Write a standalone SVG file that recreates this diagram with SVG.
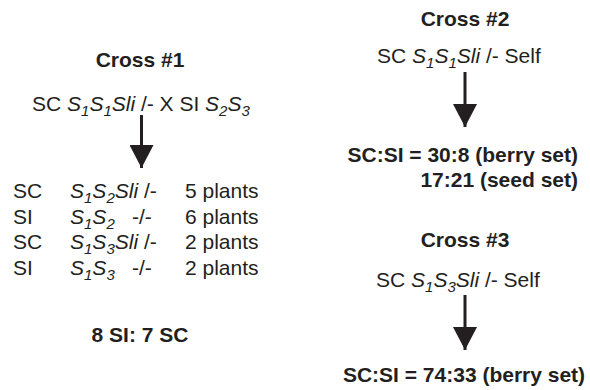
<svg xmlns="http://www.w3.org/2000/svg" width="590" height="390" viewBox="0 0 590 390">
<style>
text{font-family:"Liberation Sans",Arial,sans-serif;font-size:21px;fill:#231f20}
.b{font-weight:bold}
.i{font-style:italic}
.s{font-size:15px;font-style:italic}
.arrow{stroke:#231f20;stroke-width:3;fill:none}
</style>
<defs>
<marker id="ah" markerUnits="userSpaceOnUse" markerWidth="24" markerHeight="24" viewBox="0 0 24 24" refX="23" refY="12" orient="auto">
<path d="M0,0 L23,12 L0,24 Z" fill="#231f20"/>
</marker>
</defs>
<rect width="590" height="390" fill="#ffffff"/>
<g id="cross1">
<text class="b" x="140" y="67" text-anchor="middle">Cross #1</text>
<text x="32" y="111">SC <tspan class="i">S</tspan><tspan class="s" dy="5">1</tspan><tspan class="i" dy="-5">S</tspan><tspan class="s" dy="5">1</tspan><tspan class="i" dy="-5">Sli</tspan> /- X SI <tspan class="i">S</tspan><tspan class="s" dy="5">2</tspan><tspan class="i" dy="-5">S</tspan><tspan class="s" dy="5">3</tspan></text>
</g>
<g id="progeny1">
<text x="13" y="198">SC</text>
<text x="70" y="198"><tspan class="i">S</tspan><tspan class="s" dy="5">1</tspan><tspan class="i" dy="-5">S</tspan><tspan class="s" dy="5">2</tspan><tspan class="i" dy="-5">Sli</tspan> /-</text>
<text x="185" y="198">5 plants</text>
<text x="13" y="223.5">SI</text>
<text x="70" y="223.5"><tspan class="i">S</tspan><tspan class="s" dy="5">1</tspan><tspan class="i" dy="-5">S</tspan><tspan class="s" dy="5">2</tspan></text>
<text x="132" y="223.5">-/-</text>
<text x="185" y="223.5">6 plants</text>
<text x="13" y="249">SC</text>
<text x="70" y="249"><tspan class="i">S</tspan><tspan class="s" dy="5">1</tspan><tspan class="i" dy="-5">S</tspan><tspan class="s" dy="5">3</tspan><tspan class="i" dy="-5">Sli</tspan> /-</text>
<text x="185" y="249">2 plants</text>
<text x="13" y="274.5">SI</text>
<text x="70" y="274.5"><tspan class="i">S</tspan><tspan class="s" dy="5">1</tspan><tspan class="i" dy="-5">S</tspan><tspan class="s" dy="5">3</tspan></text>
<text x="132" y="274.5">-/-</text>
<text x="185" y="274.5">2 plants</text>
</g>
<g id="ratio1">
<text class="b" x="140" y="342" text-anchor="middle">8 SI: 7 SC</text>
</g>
<g id="cross2">
<text class="b" x="465" y="26" text-anchor="middle">Cross #2</text>
<text x="377" y="63">SC <tspan class="i">S</tspan><tspan class="s" dy="5">1</tspan><tspan class="i" dy="-5">S</tspan><tspan class="s" dy="5">1</tspan><tspan class="i" dy="-5">Sli</tspan> /- Self</text>
</g>
<g id="ratio2">
<text class="b" x="578" y="162" text-anchor="end">SC:SI = 30:8 (berry set)</text>
<text class="b" x="578" y="187" text-anchor="end">17:21 (seed set)</text>
</g>
<g id="cross3">
<text class="b" x="465" y="247" text-anchor="middle">Cross #3</text>
<text x="376" y="287">SC <tspan class="i">S</tspan><tspan class="s" dy="5">1</tspan><tspan class="i" dy="-5">S</tspan><tspan class="s" dy="5">3</tspan><tspan class="i" dy="-5">Sli</tspan> /- Self</text>
</g>
<g id="ratio3">
<text class="b" x="464" y="382" text-anchor="middle">SC:SI = 74:33 (berry set)</text>
</g>
<g id="connectors">
<line class="arrow" x1="141.5" y1="115" x2="141.5" y2="168" marker-end="url(#ah)"/>
<line class="arrow" x1="465" y1="72" x2="465" y2="127" marker-end="url(#ah)"/>
<line class="arrow" x1="465" y1="295" x2="465" y2="350" marker-end="url(#ah)"/>
</g>
</svg>
